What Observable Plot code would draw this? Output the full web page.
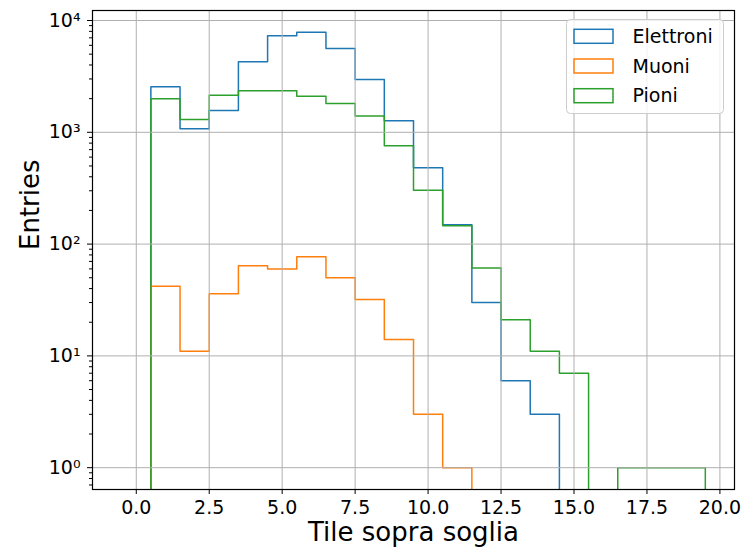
<!DOCTYPE html>
<html>
<head>
<meta charset="utf-8">
<script src="https://cdn.jsdelivr.net/npm/d3@7"></script>
<script src="https://cdn.jsdelivr.net/npm/@observablehq/plot@0.6"></script>
<style>
  body { margin: 0; background: #fff; }
  #chart { width: 742px; height: 548px; }
</style>
</head>
<body>
<div id="chart"></div>
<script>
// Number of tiles above threshold: unit-wide bins centred on 0..19
const tiles = [0, 1, 2, 3, 4, 5, 6, 7, 8, 9, 10, 11, 12, 13, 14, 15, 16, 17, 18, 19];

// Entries per bin for each particle type
const elettroni = [0, 2550, 1075, 1570, 4270, 7300, 7850, 5620, 2965, 1270, 481, 149, 30, 6, 3, 0, 0, 0, 0, 0];
const muoni     = [0, 42, 11, 36, 64, 60, 77, 50, 32, 14, 3, 1, 0, 0, 0, 0, 0, 0, 0, 0];
const pioni     = [0, 2000, 1300, 2150, 2350, 2350, 2100, 1810, 1400, 757, 303, 146, 61, 21, 11, 7, 0, 1, 1, 1];

const seriesNames  = ["Elettroni", "Muoni", "Pioni"];
const seriesValues = [elettroni, muoni, pioni];
const seriesColors = ["#1f77b4", "#ff7f0e", "#2ca02c"];

const xTicks = [0, 2.5, 5, 7.5, 10, 12.5, 15, 17.5, 20];
const yTicks = [1, 10, 100, 1000, 10000];
const supDigits = {"0": "\u2070", "1": "\u00b9", "2": "\u00b2", "3": "\u00b3", "4": "\u2074"};

const binWidth = 1;
const yDomain = [0.638, 12290];
const emptyFloor = 0.1; // empty bins sit below the log axis and get clipped

// Step outline of each histogram: one point per left bin edge, plus the closing right edge
const rows = [];
seriesNames.forEach((name, s) => {
  const vals = seriesValues[s];
  tiles.forEach((t, i) => {
    rows.push({series: name, x: t - binWidth / 2, y: vals[i] > 0 ? vals[i] : emptyFloor});
  });
  rows.push({series: name, x: tiles[tiles.length - 1] + binWidth / 2, y: emptyFloor});
});

// Log minor ticks (2..9 per decade) inside the y domain
const minorTicks = [];
for (let e = -1; e <= 4; e++) {
  for (let m = 2; m <= 9; m++) {
    const v = m * Math.pow(10, e);
    if (v >= yDomain[0] && v <= yDomain[1]) minorTicks.push(v);
  }
}

const gridStyle = {stroke: "#b0b0b0", strokeOpacity: 1, strokeWidth: 1};

const plot = Plot.plot({
  width: 742,
  height: 548,
  marginLeft: 92,
  marginRight: 8,
  marginTop: 10,
  marginBottom: 59,
  style: {fontFamily: "DejaVu Sans", fontSize: "19px", color: "black", background: "white"},
  x: {domain: [-1.5, 20.5]},
  y: {type: "log", domain: yDomain},
  color: {domain: seriesNames, range: seriesColors},
  marks: [
    Plot.line(rows, {x: "x", y: "y", z: "series", stroke: "series", curve: "step-after", strokeWidth: 1.5, clip: true}),
    Plot.gridX(xTicks, gridStyle),
    Plot.gridY(yTicks, gridStyle),
    Plot.axisX(xTicks, {tickSize: 5, tickPadding: 6, tickFormat: d3.format(".1f"), fontSize: 19, label: null}),
    Plot.axisY(yTicks, {
      tickSize: 5, tickPadding: 7, fontSize: 19, label: null,
      tickFormat: d => "10" + String(Math.round(Math.log10(d))).split("").map(c => supDigits[c]).join("")
    }),
    Plot.axisY(minorTicks, {tickSize: 3, tickFormat: () => "", label: null}),
    Plot.frame({stroke: "black", strokeWidth: 1.2}),
    Plot.text(["Tile sopra soglia"], {frameAnchor: "bottom", dy: 51, fontSize: 26, fill: "black"}),
    Plot.text(["Entries"], {frameAnchor: "left", dx: -62, rotate: -90, fontSize: 26, fill: "black"})
  ]
});

// Legend box in the upper right corner of the axes
const color = plot.scale("color");
const svg = d3.select(plot);
const lg = svg.append("g")
  .attr("font-family", "DejaVu Sans").attr("font-size", 19).attr("text-anchor", "start");
lg.append("rect")
  .attr("x", 566.5).attr("y", 19.5).attr("width", 157).attr("height", 94)
  .attr("rx", 4).attr("fill", "white").attr("fill-opacity", 0.8)
  .attr("stroke", "#cccccc").attr("stroke-width", 1);
seriesNames.forEach((name, i) => {
  const cy = 36.3 + i * 29.7;
  lg.append("rect")
    .attr("x", 574).attr("y", cy - 7).attr("width", 39).attr("height", 14)
    .attr("fill", "none").attr("stroke", color.apply(name)).attr("stroke-width", 1.5);
  lg.append("text")
    .attr("x", 632.5).attr("y", cy).attr("dy", "0.35em")
    .attr("text-anchor", "start")
    .attr("fill", "black").text(name);
});

document.getElementById("chart").appendChild(plot);
</script>
</body>
</html>
